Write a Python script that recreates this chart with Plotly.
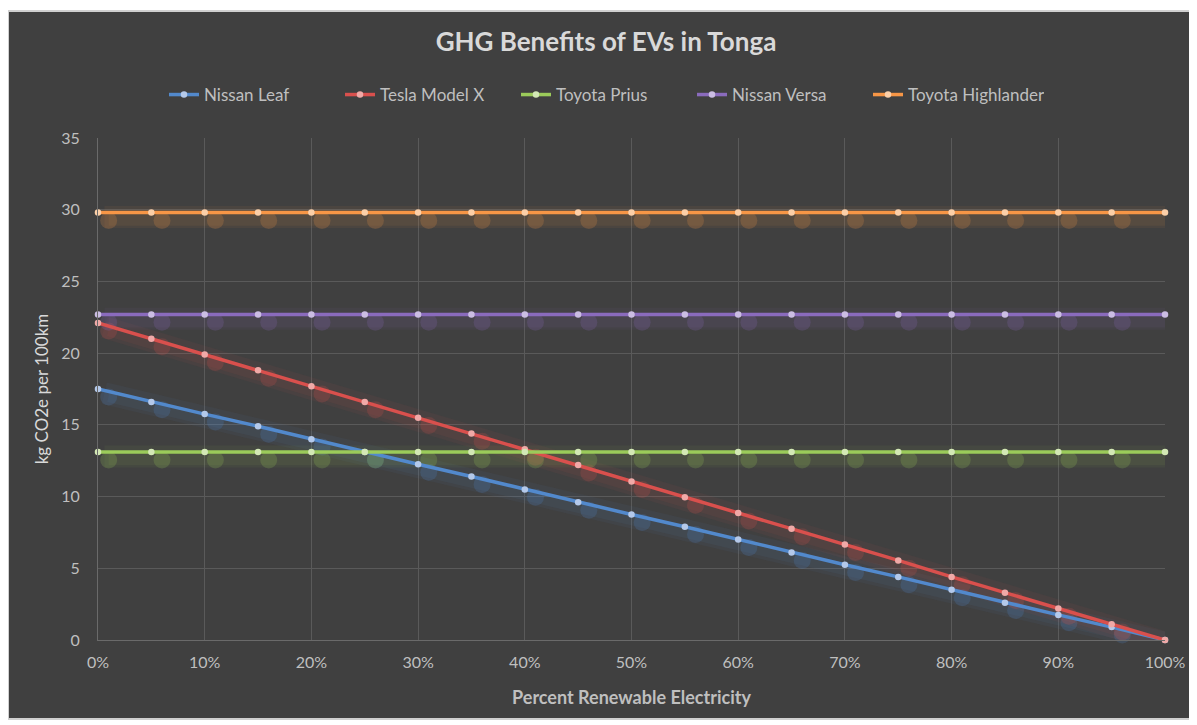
import plotly.graph_objects as go

renewable_pct = [0, 5, 10, 15, 20, 25, 30, 35, 40, 45, 50, 55, 60, 65, 70, 75, 80, 85, 90, 95, 100]
nissan_leaf = [17.5, 16.6, 15.75, 14.9, 14.0, 13.1, 12.25, 11.4, 10.5, 9.6, 8.75, 7.9, 7.0, 6.1, 5.25, 4.4, 3.5, 2.6, 1.75, 0.9, 0.0]
tesla_model_x = [22.1, 21.0, 19.9, 18.8, 17.7, 16.6, 15.5, 14.4, 13.3, 12.2, 11.05, 9.95, 8.85, 7.75, 6.65, 5.55, 4.4, 3.3, 2.2, 1.1, 0.0]
toyota_prius = [13.1] * 21
nissan_versa = [22.7] * 21
toyota_highlander = [29.8] * 21

x_tick_vals = [0, 10, 20, 30, 40, 50, 60, 70, 80, 90, 100]
x_tick_text = ["0%", "10%", "20%", "30%", "40%", "50%", "60%", "70%", "80%", "90%", "100%"]

series = [
    ("Nissan Leaf", nissan_leaf, "#5289cc", "#b4c9ea", "82,137,204"),
    ("Tesla Model X", tesla_model_x, "#d9504d", "#f0a9a7", "217,80,77"),
    ("Toyota Prius", toyota_prius, "#9bcb5a", "#d3e8b5", "155,203,90"),
    ("Nissan Versa", nissan_versa, "#8a6bbd", "#cbbde3", "138,107,189"),
    ("Toyota Highlander", toyota_highlander, "#f79646", "#fbcfa8", "247,150,70"),
]

FONT = "Lato, 'Open Sans', sans-serif"
fig = go.Figure()

# soft drop shadows (decorative), offset slightly right/down
for name, vals, col, mcol, rgb in series:
    fig.add_trace(go.Scatter(
        x=[v + 0.6 for v in renewable_pct], y=[v - 0.3 for v in vals],
        mode="lines", showlegend=False, hoverinfo="skip",
        line=dict(color=f"rgba({rgb},0.06)", width=22),
        cliponaxis=False,
    ))
    fig.add_trace(go.Scatter(
        x=[v + 1.0 for v in renewable_pct], y=[v - 0.5 for v in vals],
        mode="lines", showlegend=False, hoverinfo="skip",
        line=dict(color=f"rgba({rgb},0.07)", width=12),
        cliponaxis=False,
    ))
    fig.add_trace(go.Scatter(
        x=[v + 1.0 for v in renewable_pct], y=[v - 0.55 for v in vals],
        mode="markers", showlegend=False, hoverinfo="skip",
        marker=dict(size=17, color=f"rgba({rgb},0.20)"),
        cliponaxis=False,
    ))

for name, vals, col, mcol, rgb in series:
    fig.add_trace(go.Scatter(
        x=renewable_pct, y=vals, name=name, mode="lines+markers",
        line=dict(color=col, width=3.5),
        marker=dict(size=6.5, color=mcol),
        cliponaxis=False,
    ))

# page has an 8px body margin; figure occupies 8..1197 x 8..725
OFF = 8
W, H = 1197 - OFF, 725 - OFF
L, T = 98 - OFF, 138 - OFF
pw, ph = 1067, 502
R, B = W - L - pw, H - T - ph

fig.add_shape(type="rect", xref="paper", yref="paper",
              x0=(0 - L) / pw, x1=(1182 - L) / pw,
              y0=(H - B - 711) / ph, y1=(H - B - 3) / ph,
              fillcolor="#404040", line=dict(color="#d0d0d0", width=2), layer="below")

fig.update_layout(
    width=W, height=H,
    margin=dict(l=L, r=R, t=T, b=B),
    paper_bgcolor="white", plot_bgcolor="rgba(0,0,0,0)",
    font=dict(family=FONT, color="#bfbfbf", size=16),
    title=dict(text="<b>GHG Benefits of EVs in Tonga</b>", x=(606 - OFF) / W, xref="container",
               y=1 - (42 - OFF) / H, yanchor="middle", xanchor="center",
               font=dict(size=26, color="#d9d9d9", family=FONT)),
    legend=dict(orientation="h", x=(604 - OFF) / W, xanchor="center", xref="container",
                y=1 - (95 - OFF) / H, yref="container", yanchor="middle",
                font=dict(size=17, color="#bfbfbf", family=FONT),
                bgcolor="rgba(0,0,0,0)", itemwidth=30,
                entrywidth=131, entrywidthmode="pixels"),
    xaxis=dict(range=[0, 100], tickvals=x_tick_vals, ticktext=x_tick_text,
               showgrid=True, gridcolor="#5a5a5a", gridwidth=1,
               showline=True, linecolor="#6a6a6a", zeroline=False,
               tickfont=dict(size=16, color="#bfbfbf"), ticks="", ticklabelstandoff=8,
               title=dict(text="<b>Percent Renewable Electricity</b>", standoff=21,
                          font=dict(size=18, color="#bfbfbf"))),
    yaxis=dict(range=[0, 35], dtick=5,
               showgrid=True, gridcolor="#5a5a5a", gridwidth=1,
               showline=True, linecolor="#6a6a6a", zeroline=False,
               tickfont=dict(size=16, color="#bfbfbf"), ticks="", ticklabelstandoff=14,
               title=dict(text="kg CO2e per 100km", standoff=8,
                          font=dict(size=17, color="#d9d9d9"))),
)

fig.write_html("out.html")
